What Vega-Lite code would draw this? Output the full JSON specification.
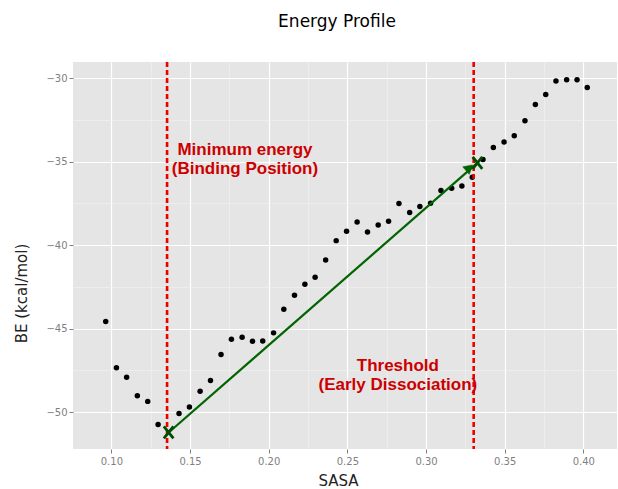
{
  "$schema": "https://vega.github.io/schema/vega-lite/v6.json",
  "width": 544,
  "height": 387,
  "autosize": {"type": "none"},
  "padding": {"left": 73, "top": 62, "right": 1, "bottom": 40},
  "background": "white",
  "title": {
    "text": "Energy Profile",
    "font": "DejaVu Sans",
    "fontSize": 17,
    "fontWeight": "normal",
    "color": "#000000",
    "anchor": "middle",
    "baseline": "alphabetic",
    "offset": 17,
    "dx": -8
  },
  "config": {
    "view": {"stroke": null, "fill": "#E5E5E5"},
    "axis": {
      "domain": false,
      "labelFont": "DejaVu Sans",
      "labelFontSize": 10,
      "labelColor": "#7F7F7F",
      "tickColor": "#7F7F7F",
      "tickSize": 4,
      "titleFont": "DejaVu Sans",
      "titleFontSize": 15,
      "titleFontWeight": "normal",
      "titleColor": "#222222"
    }
  },
  "datasets": {
    "pts": [
      {"SASA": 0.0964, "BE": -44.57},
      {"SASA": 0.1032, "BE": -47.34},
      {"SASA": 0.1097, "BE": -47.90},
      {"SASA": 0.1165, "BE": -49.02},
      {"SASA": 0.1231, "BE": -49.35},
      {"SASA": 0.1297, "BE": -50.73},
      {"SASA": 0.1430, "BE": -50.07},
      {"SASA": 0.1496, "BE": -49.68},
      {"SASA": 0.1564, "BE": -48.74},
      {"SASA": 0.1630, "BE": -48.10},
      {"SASA": 0.1697, "BE": -46.54},
      {"SASA": 0.1763, "BE": -45.63},
      {"SASA": 0.1831, "BE": -45.51},
      {"SASA": 0.1897, "BE": -45.75},
      {"SASA": 0.1962, "BE": -45.73},
      {"SASA": 0.2031, "BE": -45.25},
      {"SASA": 0.2096, "BE": -43.83},
      {"SASA": 0.2164, "BE": -43.00},
      {"SASA": 0.2230, "BE": -42.34},
      {"SASA": 0.2295, "BE": -41.92},
      {"SASA": 0.2362, "BE": -40.89},
      {"SASA": 0.2429, "BE": -39.73},
      {"SASA": 0.2495, "BE": -39.17},
      {"SASA": 0.2562, "BE": -38.61},
      {"SASA": 0.2628, "BE": -39.21},
      {"SASA": 0.2696, "BE": -38.79},
      {"SASA": 0.2762, "BE": -38.57},
      {"SASA": 0.2828, "BE": -37.51},
      {"SASA": 0.2896, "BE": -38.05},
      {"SASA": 0.2961, "BE": -37.69},
      {"SASA": 0.3029, "BE": -37.49},
      {"SASA": 0.3095, "BE": -36.73},
      {"SASA": 0.3163, "BE": -36.60},
      {"SASA": 0.3228, "BE": -36.46},
      {"SASA": 0.3294, "BE": -35.94},
      {"SASA": 0.3362, "BE": -34.88},
      {"SASA": 0.3428, "BE": -34.16},
      {"SASA": 0.3496, "BE": -33.83},
      {"SASA": 0.3561, "BE": -33.45},
      {"SASA": 0.3629, "BE": -32.55},
      {"SASA": 0.3695, "BE": -31.59},
      {"SASA": 0.3761, "BE": -30.99},
      {"SASA": 0.3826, "BE": -30.18},
      {"SASA": 0.3894, "BE": -30.10},
      {"SASA": 0.3960, "BE": -30.10},
      {"SASA": 0.4025, "BE": -30.57}
    ],
    "vlines": [
      {"SASA": 0.1354},
      {"SASA": 0.3303}
    ],
    "arrow": [
      {"SASA": 0.1364, "BE": -51.21},
      {"SASA": 0.3327, "BE": -35.08}
    ],
    "arrowhead": [
      {"SASA": 0.3275, "BE": -35.37}
    ],
    "labels": [
      {"SASA": 0.1849, "BE": -34.89, "label": "Minimum energy\n(Binding Position)"},
      {"SASA": 0.2821, "BE": -47.86, "label": "Threshold\n(Early Dissociation)"}
    ]
  },
  "layer": [
    {
      "data": {"name": "pts"},
      "mark": {"type": "circle", "size": 30, "color": "#000000", "opacity": 1},
      "encoding": {
        "x": {
          "field": "SASA",
          "type": "quantitative",
          "title": "SASA",
          "scale": {"domain": [0.0756, 0.4214], "nice": false, "zero": false},
          "axis": {
            "values": [0.1, 0.125, 0.15, 0.175, 0.2, 0.225, 0.25, 0.275, 0.3, 0.325, 0.35, 0.375, 0.4],
            "format": ".2f",
            "labelExpr": "abs(datum.value*20 - round(datum.value*20)) < 0.000001 ? datum.label : ''",
            "labelPadding": 3,
            "labelFlush": false,
            "labelOverlap": false,
            "tickColor": {"condition": {"test": "abs(datum.value*20 - round(datum.value*20)) < 0.000001", "value": "#7F7F7F"}, "value": "transparent"},
            "gridColor": {"condition": {"test": "abs(datum.value*20 - round(datum.value*20)) < 0.000001", "value": "#FFFFFF"}, "value": "#F2F2F2"},
            "gridWidth": {"condition": {"test": "abs(datum.value*20 - round(datum.value*20)) < 0.000001", "value": 1.2}, "value": 0.6},
            "gridOpacity": 1,
            "titleX": 265,
            "titleY": 36,
            "titleBaseline": "alphabetic"
          }
        },
        "y": {
          "field": "BE",
          "type": "quantitative",
          "title": "BE (kcal/mol)",
          "scale": {"domain": [-52.2, -29.04], "nice": false, "zero": false},
          "axis": {
            "values": [-50, -47.5, -45, -42.5, -40, -37.5, -35, -32.5, -30],
            "labelExpr": "datum.value % 5 == 0 ? datum.label : ''",
            "labelPadding": 2,
            "labelFlush": false,
            "labelOverlap": false,
            "tickColor": {"condition": {"test": "datum.value % 5 == 0", "value": "#7F7F7F"}, "value": "transparent"},
            "gridColor": {"condition": {"test": "datum.value % 5 == 0", "value": "#FFFFFF"}, "value": "#F2F2F2"},
            "gridWidth": {"condition": {"test": "datum.value % 5 == 0", "value": 1.2}, "value": 0.6},
            "gridOpacity": 1,
            "titleX": -47,
            "titleY": 231,
            "titleBaseline": "alphabetic",
            "titleAngle": -90
          }
        }
      }
    },
    {
      "data": {"name": "vlines"},
      "mark": {"type": "rule", "color": "#EE0000", "strokeWidth": 2.6, "strokeDash": [5, 3]},
      "encoding": {
        "x": {"field": "SASA", "type": "quantitative"}
      }
    },
    {
      "data": {"name": "arrow"},
      "mark": {"type": "line", "color": "#006400", "strokeWidth": 2.2},
      "encoding": {
        "x": {"field": "SASA", "type": "quantitative"},
        "y": {"field": "BE", "type": "quantitative"},
        "order": {"field": "SASA", "type": "quantitative"}
      }
    },
    {
      "data": {"name": "arrow"},
      "mark": {"type": "point", "shape": "M-0.8,-1L0.8,1M-0.8,1L0.8,-1", "size": 144, "filled": false, "stroke": "#004d00", "strokeWidth": 2.8, "opacity": 1},
      "encoding": {
        "x": {"field": "SASA", "type": "quantitative"},
        "y": {"field": "BE", "type": "quantitative"}
      }
    },
    {
      "data": {"name": "arrowhead"},
      "mark": {"type": "point", "shape": "triangle-up", "size": 100, "angle": 48.9, "filled": true, "fill": "#006400", "stroke": "#006400", "strokeWidth": 0.5, "opacity": 1, "fillOpacity": 1},
      "encoding": {
        "x": {"field": "SASA", "type": "quantitative"},
        "y": {"field": "BE", "type": "quantitative"}
      }
    },
    {
      "data": {"name": "labels"},
      "mark": {"type": "text", "font": "Liberation Sans", "fontSize": 17, "fontWeight": "bold", "color": "#CC0000", "align": "center", "baseline": "middle", "lineBreak": "\n", "lineHeight": 19, "dy": -10},
      "encoding": {
        "x": {"field": "SASA", "type": "quantitative"},
        "y": {"field": "BE", "type": "quantitative"},
        "text": {"field": "label"}
      }
    }
  ]
}
